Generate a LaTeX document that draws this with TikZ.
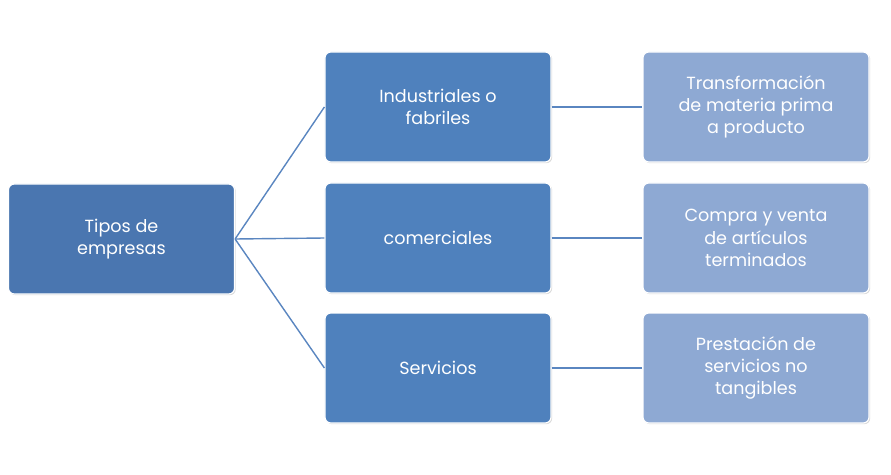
\documentclass[tikz,border=0pt]{standalone}
\usepackage{fontspec}
\setmainfont{Poppins}
\usetikzlibrary{shadows}
\definecolor{rootblue}{HTML}{4A76B0}
\definecolor{midblue}{HTML}{4F81BD}
\definecolor{leafblue}{HTML}{8EA9D3}
\definecolor{linkblue}{HTML}{5A86C0}
\tikzset{
  box/.style={rounded corners=5pt,draw=white,line width=1pt,text=white,
    minimum width=6.78cm,minimum height=3.3cm,align=center,
    font=\fontsize{15}{19}\selectfont,
    drop shadow={opacity=0.3,shadow xshift=1pt,shadow yshift=-1pt}},
  link/.style={draw=linkblue,line width=1.2pt}
}
\begin{document}
\begin{tikzpicture}[x=0.03cm,y=-0.03cm]
    \useasboundingbox (0,0) rectangle (891,475);
    \node[box,fill=rootblue] (root) at (121.5,239) {Tipos de\\empresas};
    \node[box,fill=midblue] (ind) at (438,107) {Industriales o\\fabriles};
    \node[box,fill=midblue] (com) at (438,238) {comerciales};
    \node[box,fill=midblue] (ser) at (438,368) {Servicios};
    \node[box,fill=leafblue] (tra) at (756,107) {Transformación\\de materia prima\\a producto};
    \node[box,fill=leafblue] (cyv) at (756,238) {Compra y venta\\de artículos\\terminados};
    \node[box,fill=leafblue] (pre) at (756,368) {Prestación de\\servicios no\\tangibles};
    % connectors
    \draw[link] (root.east) -- (ind.west);
    \draw[link] (root.east) -- (com.west);
    \draw[link] (root.east) -- (ser.west);
    \draw[link] (ind) -- (tra);
    \draw[link] (com) -- (cyv);
    \draw[link] (ser) -- (pre);
\end{tikzpicture}
\end{document}
